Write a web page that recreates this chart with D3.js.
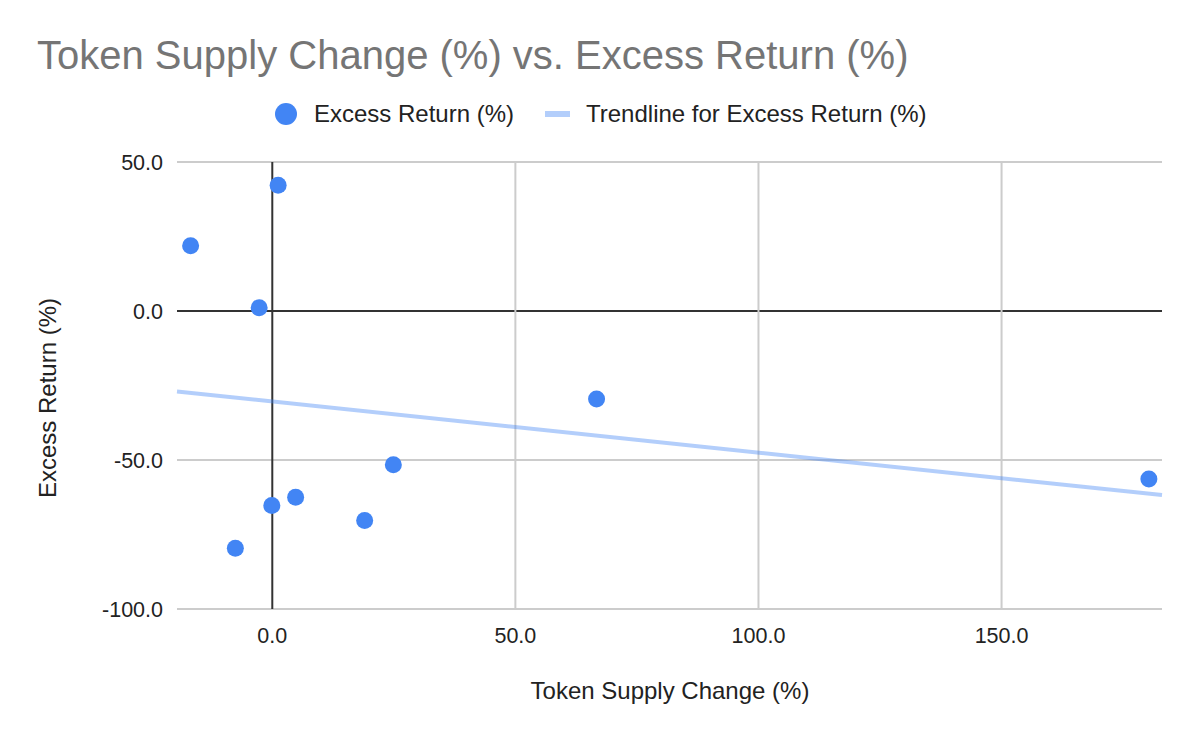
<!DOCTYPE html>
<html>
<head>
<meta charset="utf-8">
<script src="https://cdn.jsdelivr.net/npm/d3@7"></script>
<style>
  body { margin: 0; background: #fff; }
  svg text { font-family: "Liberation Sans", Arial, sans-serif; }
</style>
</head>
<body>
<div id="chart"></div>
<script>
// values
var supplyChange = [-16.8, 1.2, -2.7, 66.7, 24.9, 4.8, -0.1, 19.0, -7.6, 180.3];
var excessReturn = [21.9, 42.2, 1.1, -29.5, -51.6, -62.5, -65.3, -70.3, -79.6, -56.4];
var xTicks = [0, 50, 100, 150];
var yTicks = [-100, -50, 0, 50];
var legendLabels = ["Excess Return (%)", "Trendline for Excess Return (%)"];

var width = 1200, height = 742;
var margin = {top: 162, right: 38, bottom: 133, left: 177};

var svg = d3.select("#chart").append("svg")
    .attr("width", width)
    .attr("height", height);

var x = d3.scaleLinear().domain([-19.6, 183]).range([margin.left, width - margin.right]);
var y = d3.scaleLinear().domain([-100, 50]).range([height - margin.bottom, margin.top]);

var points = supplyChange.map(function(d, i){ return {x: d, y: excessReturn[i]}; });

// least squares trendline, as the spreadsheet does it
var mx = d3.mean(supplyChange), my = d3.mean(excessReturn);
var sxy = d3.sum(points, function(d){ return (d.x - mx) * (d.y - my); });
var sxx = d3.sum(points, function(d){ return (d.x - mx) * (d.x - mx); });
var slope = sxy / sxx, intercept = my - slope * mx;

// hyphen instead of unicode minus, like the sheet
function fmt(d){ return d3.format(".1f")(d).replace("\u2212", "-"); }

// title
svg.append("text")
    .attr("x", 37).attr("y", 69)
    .attr("fill", "#757575")
    .style("font-size", "40px")
    .text("Token Supply Change (%) vs. Excess Return (%)");

// gridlines
svg.append("g").selectAll("line").data(yTicks).enter().append("line")
    .attr("x1", x.range()[0]).attr("x2", x.range()[1])
    .attr("y1", function(d){ return y(d); }).attr("y2", function(d){ return y(d); })
    .attr("stroke", function(d){ return d == 0 ? "#333" : "#ccc"; })
    .attr("stroke-width", 2);

svg.append("g").selectAll("line").data(xTicks).enter().append("line")
    .attr("y1", y.range()[0]).attr("y2", y.range()[1])
    .attr("x1", function(d){ return x(d); }).attr("x2", function(d){ return x(d); })
    .attr("stroke", function(d){ return d == 0 ? "#333" : "#ccc"; })
    .attr("stroke-width", 2);

// tick labels
svg.append("g").selectAll("text").data(yTicks).enter().append("text")
    .attr("x", margin.left - 14)
    .attr("y", function(d){ return y(d) + 8; })
    .attr("text-anchor", "end")
    .attr("fill", "#222")
    .style("font-size", "21.5px")
    .text(fmt);

svg.append("g").selectAll("text").data(xTicks).enter().append("text")
    .attr("x", function(d){ return x(d); })
    .attr("y", height - margin.bottom + 34)
    .attr("text-anchor", "middle")
    .attr("fill", "#222")
    .style("font-size", "21.5px")
    .text(fmt);

// axis titles
svg.append("text")
    .attr("x", 670).attr("y", 699)
    .attr("text-anchor", "middle")
    .attr("fill", "#222")
    .style("font-size", "24px")
    .text("Token Supply Change (%)");

svg.append("text")
    .attr("transform", "translate(56,398) rotate(-90)")
    .attr("text-anchor", "middle")
    .attr("fill", "#222")
    .style("font-size", "24px")
    .text("Excess Return (%)");

// trendline
var x0 = x.domain()[0], x1 = x.domain()[1];
svg.append("line")
    .attr("x1", x(x0)).attr("y1", y(slope * x0 + intercept))
    .attr("x2", x(x1)).attr("y2", y(slope * x1 + intercept))
    .attr("stroke", "#4285f4")
    .attr("stroke-opacity", 0.4)
    .attr("stroke-width", 4);

// points
svg.append("g").selectAll("circle").data(points).enter().append("circle")
    .attr("cx", function(d){ return x(d.x); })
    .attr("cy", function(d){ return y(d.y); })
    .attr("r", 8.5)
    .attr("fill", "#4285f4");

// legend
var legend = svg.append("g");
legend.append("circle").attr("cx", 286).attr("cy", 114).attr("r", 11).attr("fill", "#4285f4");
legend.append("text").attr("x", 314).attr("y", 122)
    .attr("fill", "#222").style("font-size", "24px").text(legendLabels[0]);
legend.append("rect").attr("x", 545).attr("y", 111).attr("width", 25).attr("height", 6)
    .attr("fill", "#4285f4").attr("fill-opacity", 0.4);
legend.append("text").attr("x", 586).attr("y", 122)
    .attr("fill", "#222").style("font-size", "24px").text(legendLabels[1]);
</script>
</body>
</html>
